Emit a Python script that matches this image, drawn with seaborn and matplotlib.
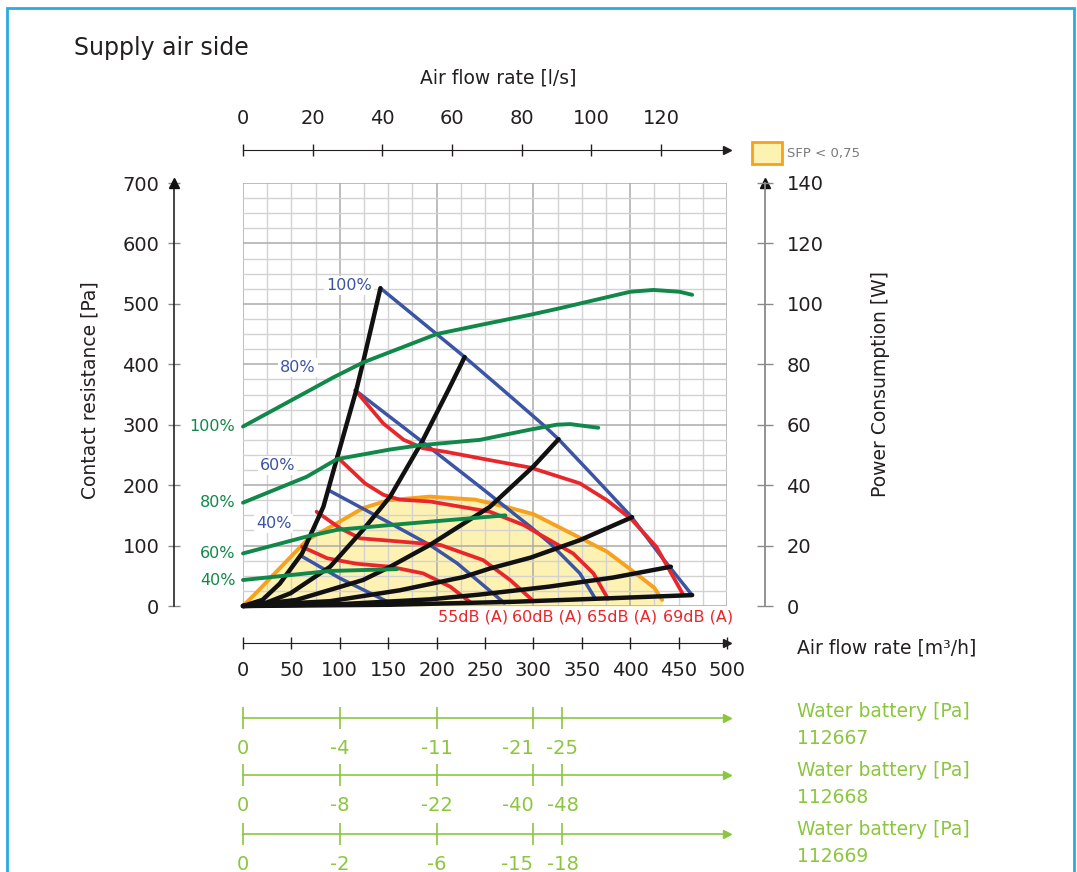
import numpy as np
import pandas as pd
import matplotlib.pyplot as plt
from matplotlib.patches import Rectangle
from matplotlib.ticker import MultipleLocator
import seaborn as sns

sns.set_style('white')
plt.rcParams['font.family'] = ['DejaVu Sans']
plt.rcParams['axes.unicode_minus'] = False

# system resistance curves (black), air flow m3/h vs Pa
sys1_x = [0, 20, 38, 61, 83, 97, 117, 124, 142]
sys1_y = [0, 10, 37, 87, 164, 244, 357, 403, 526]
sys2_x = [0, 25, 49, 90, 124, 152, 185, 212, 229]
sys2_y = [0, 6, 21, 65, 126, 181, 272, 357, 412]
sys3_x = [0, 55, 124, 152, 193, 255, 300, 326]
sys3_y = [0, 10, 43, 65, 101, 164, 231, 276]
sys4_x = [0, 90, 162, 228, 255, 297, 348, 402]
sys4_y = [0, 8, 26, 48, 62, 80, 109, 147]
sys5_x = [0, 100, 193, 245, 316, 382, 442]
sys5_y = [0, 3, 11, 19, 32, 47, 65]
sys6_x = [0, 150, 280, 382, 464]
sys6_y = [0, 2, 7, 13, 18]

# fan speed curves (blue)
fan100_x = [142, 200, 229, 269, 310, 326, 362, 401, 432, 464]
fan100_y = [526, 450, 412, 357, 300, 276, 215, 148, 82, 18]
fan80_x = [116, 185, 245, 297, 317, 348, 364]
fan80_y = [357, 272, 197, 131, 104, 54, 12]
fan60_x = [88, 152, 193, 221, 270]
fan60_y = [192, 137, 101, 71, 5]
fan40_x = [61, 100, 152]
fan40_y = [82, 46, 5]

# sound level curves (red)
db69_x = [116, 145, 166, 186, 210, 253, 297, 348, 376, 401, 427, 455]
db69_y = [357, 302, 275, 261, 255, 242, 229, 203, 175, 144, 98, 18]
db65_x = [97, 126, 145, 162, 193, 255, 290, 307, 341, 362, 377]
db65_y = [247, 203, 184, 176, 173, 156, 134, 118, 87, 54, 12]
db60_x = [76, 100, 121, 152, 204, 248, 276, 300]
db60_y = [156, 129, 112, 108, 101, 76, 43, 8]
db55_x = [61, 87, 117, 152, 186, 214, 235]
db55_y = [98, 79, 70, 65, 54, 32, 6]
db_labels = ['55dB (A)', '60dB (A)', '65dB (A)', '69dB (A)']

# SFP < 0,75 boundary (orange)
sfp_x = [0, 15, 31, 66, 97, 124, 150, 193, 240, 272, 300, 348, 376, 405, 425, 433]
sfp_y = [0, 24, 51, 109, 137, 162, 175, 181, 176, 164, 152, 113, 90, 55, 30, 10]

# power consumption (green), W
pw100_x = [0, 69, 93, 124, 200, 245, 297, 328, 400, 424, 451, 464]
pw100_y = [59.4, 71.4, 75.6, 80.6, 90, 93, 96.4, 98.6, 104, 104.6, 104, 103]
pw80_x = [0, 66, 97, 152, 183, 245, 297, 324, 338, 367]
pw80_y = [34.2, 42.8, 48.6, 51.8, 53.2, 55, 58.4, 60, 60.2, 59]
pw60_x = [0, 66, 97, 152, 271]
pw60_y = [17.4, 23, 25.2, 26.8, 30]
pw40_x = [0, 66, 90, 159]
pw40_y = [8.6, 10.8, 11.6, 12.2]
speed_labels = ['100%', '80%', '60%', '40%']

# axes ticks
flow_ticks = [0, 50, 100, 150, 200, 250, 300, 350, 400, 450, 500]
ls_ticks = [0, 20, 40, 60, 80, 100, 120]
wb_ticks = [0, 100, 200, 300, 330]
wb_67 = ['0', '-4', '-11', '-21', '-25']
wb_68 = ['0', '-8', '-22', '-40', '-48']
wb_69 = ['0', '-2', '-6', '-15', '-18']

BLACK = '#111111'
BLUE = '#3b54a3'
RED = '#e9262b'
GREEN = '#11884a'
ORANGE = '#f7a11c'
YELLOW = '#fdf2b2'
LGREEN = '#8cc63f'
TXT = '#231f20'

W, H = 1077, 872
fig = plt.figure(figsize=(W / 100, H / 100), dpi=100)


def fx(px):
    return px / W


def fy(py):
    return 1 - py / H


ax = fig.add_axes([fx(243), fy(606), (727 - 243) / W, (606 - 183) / H])
ax2 = ax.twinx()

# yellow SFP area + orange border
ax.fill_between(sfp_x, sfp_y, 0, color=YELLOW, lw=0, zorder=1)
sns.lineplot(x=sfp_x, y=sfp_y, ax=ax, color=ORANGE, lw=2.8, sort=False, estimator=None,
             zorder=3, clip_on=False)

for xs, ys in [(fan100_x, fan100_y), (fan80_x, fan80_y), (fan60_x, fan60_y), (fan40_x, fan40_y)]:
    sns.lineplot(x=xs, y=ys, ax=ax, color=BLUE, lw=2.5, sort=False, estimator=None, zorder=4)
for xs, ys in [(db69_x, db69_y), (db65_x, db65_y), (db60_x, db60_y), (db55_x, db55_y)]:
    sns.lineplot(x=xs, y=ys, ax=ax, color=RED, lw=2.7, sort=False, estimator=None, zorder=5)
for xs, ys in [(sys1_x, sys1_y), (sys2_x, sys2_y), (sys3_x, sys3_y),
               (sys4_x, sys4_y), (sys5_x, sys5_y), (sys6_x, sys6_y)]:
    sns.lineplot(x=xs, y=ys, ax=ax, color=BLACK, lw=3.2, sort=False, estimator=None, zorder=6,
                 clip_on=False, solid_capstyle='round')

pw_series = [(pw100_x, pw100_y), (pw80_x, pw80_y), (pw60_x, pw60_y), (pw40_x, pw40_y)]
for xs, ys in pw_series:
    sns.lineplot(x=xs, y=ys, ax=ax2, color=GREEN, lw=2.8, sort=False, estimator=None,
                 clip_on=False)

# main grid
ax.set_xlim(0, 500)
ax.set_ylim(0, 700)
ax2.set_ylim(0, 140)
ax.xaxis.set_major_locator(MultipleLocator(100))
ax.xaxis.set_minor_locator(MultipleLocator(25))
ax.yaxis.set_major_locator(MultipleLocator(100))
ax.yaxis.set_minor_locator(MultipleLocator(25))
ax.grid(which='minor', color='#d2d2d2', lw=1)
ax.grid(which='major', color='#ababab', lw=1.1)
ax.set_axisbelow('line')
ax.set_xlabel('')
ax.set_ylabel('')
ax2.set_ylabel('')
ax.tick_params(axis='x', which='both', length=0, labelbottom=False)

# left axis (Pa)
loc_left = -(243 - 174) / 484
for s in ['top', 'right', 'bottom']:
    ax.spines[s].set_visible(False)
ax.spines['left'].set_position(('axes', loc_left))
ax.spines['left'].set_color(BLACK)
ax.spines['left'].set_linewidth(1.1)
ax.tick_params(axis='y', which='major', direction='inout', length=9, width=1, color='#8a8a8a',
               labelsize=14, labelcolor=TXT, pad=6)
ax.tick_params(axis='y', which='minor', length=0)
ax.plot([loc_left], [1.0], marker='^', ms=7, color=BLACK, transform=ax.transAxes, clip_on=False)

# right axis (W)
loc_right = 1 + (765 - 727) / 484
for s in ['top', 'left', 'bottom']:
    ax2.spines[s].set_visible(False)
ax2.spines['right'].set_position(('axes', loc_right))
ax2.spines['right'].set_color('#8a8a8a')
ax2.spines['right'].set_linewidth(1.3)
ax2.yaxis.set_major_locator(MultipleLocator(20))
ax2.tick_params(axis='y', direction='inout', length=11, width=1, color='#8a8a8a',
                labelsize=14, labelcolor=TXT, pad=10)
ax2.grid(False)
ax.plot([loc_right], [1.0], marker='^', ms=7, color=BLACK, transform=ax.transAxes, clip_on=False)

# top axis (l/s)
loc_top = 1 + (183 - 150) / 423
top = ax.secondary_xaxis(loc_top, functions=(lambda m: m / 3.6, lambda l: l * 3.6))
top.set_xticks(ls_ticks)
top.spines['top'].set_color(TXT)
top.tick_params(direction='inout', length=8, width=1, color=TXT, labelsize=14,
                labelcolor=TXT, pad=12)
ax.plot([1.0], [loc_top], marker='>', ms=6, color=TXT, transform=ax.transAxes, clip_on=False)

# bottom axis (m3/h)
loc_bot = -(643 - 606) / 423
bot = ax.secondary_xaxis(loc_bot)
bot.set_xticks(flow_ticks)
bot.spines['bottom'].set_color(TXT)
bot.tick_params(direction='inout', length=8, width=1, color=TXT, labelsize=14,
                labelcolor=TXT, pad=9)
ax.plot([1.0], [loc_bot], marker='>', ms=6, color=TXT, transform=ax.transAxes, clip_on=False)

# water battery axes
for py_line, labels in [(718, wb_67), (775, wb_68), (834, wb_69)]:
    loc = -(py_line - 606) / 423
    wb = ax.secondary_xaxis(loc)
    wb.set_xticks(wb_ticks, labels=labels)
    wb.spines['bottom'].set_color(LGREEN)
    wb.spines['bottom'].set_linewidth(1.2)
    wb.tick_params(direction='inout', length=16, width=1.2, color=LGREEN, labelsize=14,
                   labelcolor=LGREEN, pad=7)
    wb.get_xticklabels()[3].set_ha('right')
    ax.plot([1.0], [loc], marker='>', ms=6, color=LGREEN, transform=ax.transAxes, clip_on=False)

# curve labels
blue_label_pos = [(133, 531), (75, 394), (54, 233), (50, 137)]
for (lx, ly), lab in zip(blue_label_pos, speed_labels):
    ax.text(lx, ly, lab, color=BLUE, fontsize=11.5, ha='right', va='center', zorder=7,
            bbox=dict(facecolor='white', edgecolor='none', pad=1.5))
for (xs, ys), lab in zip(pw_series, speed_labels):
    ax2.text(-8, ys[0], lab, color=GREEN, fontsize=11.5, ha='right', va='center', clip_on=False)
db_label_x = [238, 314, 392, 470]
for lx, lab in zip(db_label_x, db_labels):
    ax.text(lx, -18, lab, color=RED, fontsize=11.5, ha='center', va='center', clip_on=False)

# titles and axis names
fig.text(fx(74), fy(48), 'Supply air side', fontsize=17, color=TXT, ha='left', va='center')
fig.text(fx(498), fy(78), 'Air flow rate [l/s]', fontsize=13.5, color=TXT, ha='center', va='center')
fig.text(fx(90), fy(390), 'Contact resistance [Pa]', fontsize=13.5, color=TXT, rotation=90,
         ha='center', va='center')
fig.text(fx(880), fy(384), 'Power Consumption [W]', fontsize=13.5, color=TXT, rotation=90,
         ha='center', va='center')
fig.text(fx(797), fy(648), 'Air flow rate [m³/h]', fontsize=13.5, color=TXT, ha='left', va='center')
for py_title, code in [(711, '112667'), (770, '112668'), (829, '112669')]:
    fig.text(fx(797), fy(py_title), 'Water battery [Pa]', fontsize=13.5, color=LGREEN,
             ha='left', va='center')
    fig.text(fx(797), fy(py_title + 27), code, fontsize=13.5, color=LGREEN, ha='left', va='center')

# SFP legend
fig.add_artist(Rectangle((fx(752), fy(164)), 30 / W, 22 / H, transform=fig.transFigure,
                         facecolor=YELLOW, edgecolor=ORANGE, lw=2))
fig.text(fx(787), fy(154), 'SFP < 0,75', fontsize=9.5, color='#7a7a7a', ha='left', va='center')

# blue frame
fig.add_artist(Rectangle((fx(7), -0.05), (1074 - 7) / W, 1.05 - 8 / H, transform=fig.transFigure,
                         fill=False, edgecolor='#29abe2', lw=2, clip_on=False))

fig.savefig('out.png', dpi=100, facecolor='white')
